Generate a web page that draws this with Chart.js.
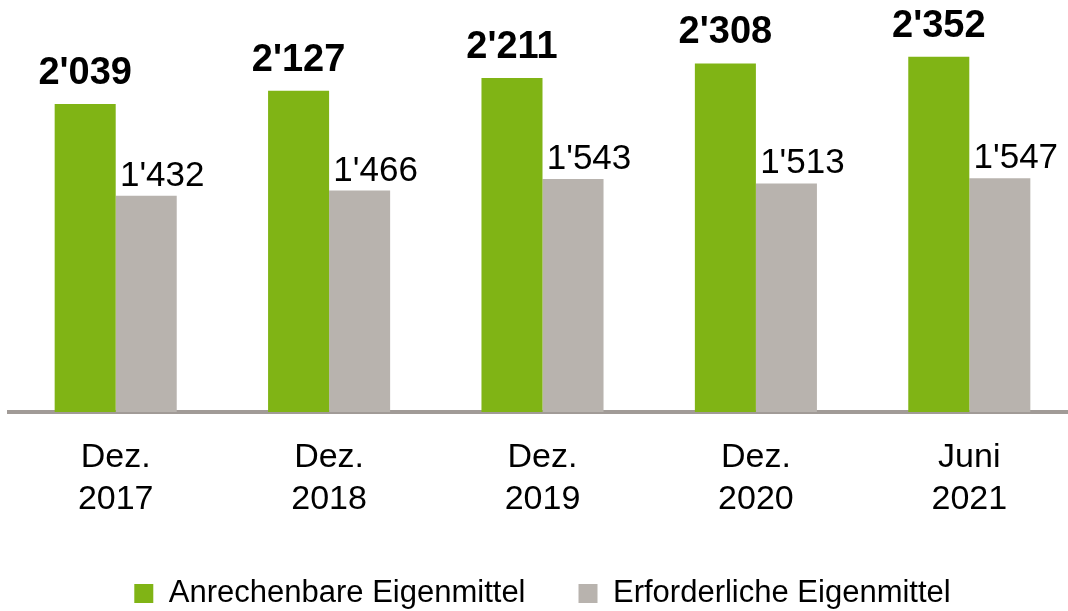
<!DOCTYPE html>
<html>
<head>
<meta charset="utf-8">
<script src="https://cdn.jsdelivr.net/npm/chart.js@4"></script>
<style>
  html, body { margin: 0; padding: 0; background: #fff; overflow: hidden; width: 1068px; height: 611px; }
  #wrap { width: 1076px; height: 619px; }
</style>
</head>
<body>
<div id="wrap"><canvas id="kapitalChart" width="1076" height="619"></canvas></div>
<script>
const categories = [['Dez.', '2017'], ['Dez.', '2018'], ['Dez.', '2019'], ['Dez.', '2020'], ['Juni', '2021']];
const anrechenbar = [2039, 2127, 2211, 2308, 2352];
const erforderlich = [1432, 1466, 1543, 1513, 1547];
const seriesNames = ['Anrechenbare Eigenmittel', 'Erforderliche Eigenmittel'];
const seriesColors = ['#80b415', '#b8b3ae'];

const FONT = "'Liberation Sans', Arial, sans-serif";

// 2039 -> 2'039
function swissFormat(v) {
    return String(v).replace(/\B(?=(\d{3})+(?!\d))/g, "'");
}

// value labels above the bars
const valueLabels = {
    id: 'valueLabels',
    afterDatasetsDraw(chart) {
        const ctx = chart.ctx;
        ctx.save();
        ctx.fillStyle = '#000';
        ctx.textAlign = 'center';
        ctx.textBaseline = 'alphabetic';
        chart.data.datasets.forEach((ds, i) => {
            const meta = chart.getDatasetMeta(i);
            meta.data.forEach((bar, j) => {
                if (i === 0) {
                    ctx.font = `bold 38px ${FONT}`;
                    ctx.fillText(swissFormat(ds.data[j]), bar.x, bar.y - 20);
                } else {
                    ctx.font = `35px ${FONT}`;
                    ctx.fillText(swissFormat(ds.data[j]), bar.x + 16, bar.y - 10);
                }
            });
        });
        ctx.restore();
    }
};

const ctx = document.getElementById('kapitalChart').getContext('2d');

new Chart(ctx, {
    type: 'bar',
    data: {
        labels: categories,
        datasets: [
            {
                label: seriesNames[0],
                data: anrechenbar,
                backgroundColor: seriesColors[0],
                borderWidth: 0,
                categoryPercentage: 0.572,
                barPercentage: 1
            },
            {
                label: seriesNames[1],
                data: erforderlich,
                backgroundColor: seriesColors[1],
                borderWidth: 0,
                categoryPercentage: 0.572,
                barPercentage: 1
            }
        ]
    },
    options: {
        responsive: false,
        animation: false,
        devicePixelRatio: 1,
        layout: {
            padding: { left: 9, right: 0, top: 0, bottom: 0 }
        },
        plugins: {
            legend: {
                position: 'bottom',
                labels: {
                    font: { family: FONT, size: 31 },
                    color: '#000',
                    boxWidth: 19,
                    boxHeight: 19,
                    padding: 53
                }
            },
            tooltip: { enabled: false }
        },
        scales: {
            x: {
                z: 1,
                grid: { display: false, drawTicks: false },
                border: { display: true, color: '#a19b97', width: 4 },
                ticks: {
                    font: { family: FONT, size: 34, lineHeight: 1.22 },
                    color: '#000',
                    padding: 25
                },
                afterFit(scale) {
                    scale.height = 113;
                }
            },
            y: {
                display: false,
                min: 0,
                max: 2728
            }
        }
    },
    plugins: [valueLabels]
});
</script>
</body>
</html>
